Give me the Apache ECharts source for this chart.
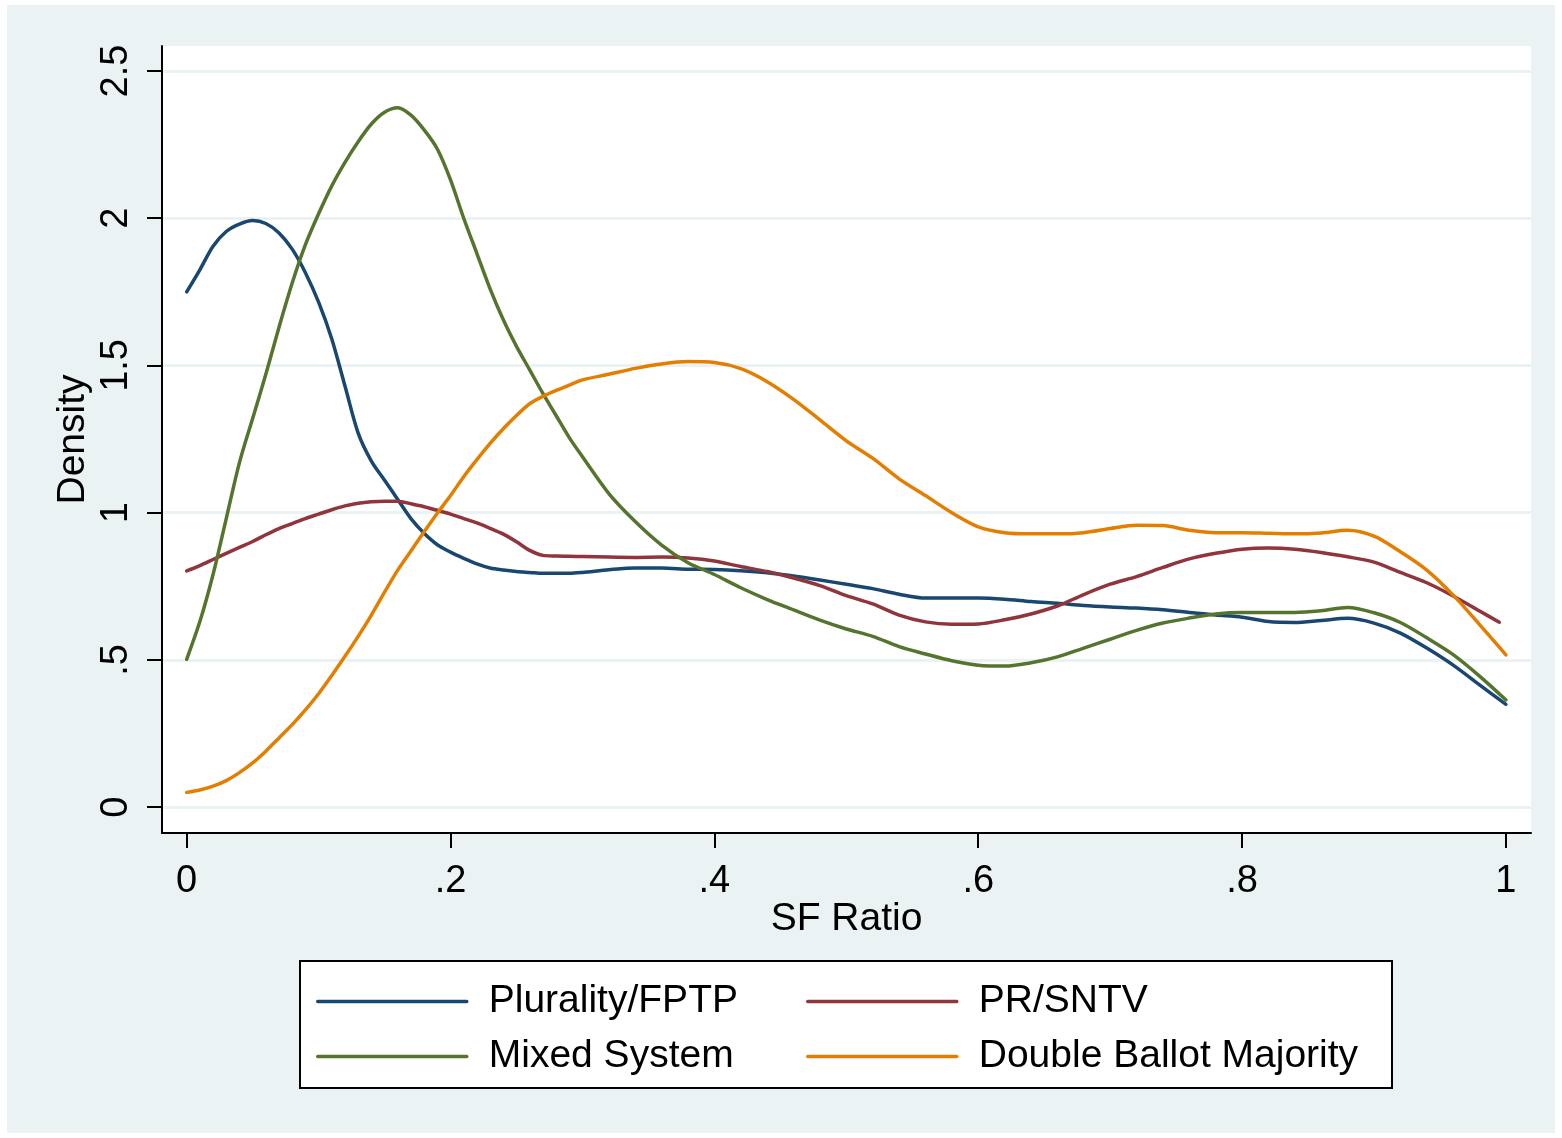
<!DOCTYPE html>
<html>
<head>
<meta charset="utf-8">
<script src="https://cdn.jsdelivr.net/npm/echarts@6/dist/echarts.min.js"></script>
<style>
html,body{margin:0;padding:0;background:#ffffff;}
#chart{width:1562px;height:1138px;}
</style>
</head>
<body>
<div id="chart"></div>
<script>
// ---- data ----
const xGrid = [0,0.01,0.02,0.03,0.04,0.05,0.06,0.07,0.08,0.09,0.10,0.11,0.12,0.13,0.14,0.15,0.16,0.17,0.18,0.19,0.20,0.21,0.22,0.23,0.24,0.25,0.26,0.27,0.28,0.29,0.30,
  0.32,0.34,0.36,0.38,0.40,0.42,0.44,0.46,0.48,0.50,0.52,0.54,0.56,0.58,0.60,0.62,0.64,0.66,0.68,0.70,0.72,0.74,0.76,0.78,0.80,0.82,0.84,0.86,0.88,0.90,0.92,0.94,0.96,0.98,1.00];

const plurality = [1.75,1.825,1.905,1.955,1.98,1.992,1.982,1.95,1.895,1.815,1.715,1.59,1.43,1.27,1.175,1.11,1.045,0.98,0.93,0.891,0.866,0.845,0.826,0.812,0.805,0.80,0.797,0.794,0.794,0.794,0.797,
  0.806,0.812,0.812,0.808,0.807,0.803,0.796,0.785,0.771,0.757,0.742,0.723,0.710,0.710,0.710,0.706,0.698,0.692,0.685,0.680,0.676,0.670,0.661,0.652,0.645,0.630,0.627,0.634,0.641,0.625,0.591,0.540,0.482,0.415,0.349];

const prSntv = [0.802,0.82,0.841,0.862,0.882,0.902,0.925,0.946,0.963,0.98,0.995,1.01,1.023,1.032,1.037,1.039,1.039,1.03,1.02,1.008,0.995,0.98,0.965,0.947,0.927,0.901,0.872,0.855,0.853,0.852,0.851,
  0.849,0.848,0.849,0.846,0.836,0.817,0.80,0.778,0.752,0.718,0.69,0.652,0.629,0.621,0.622,0.636,0.656,0.683,0.722,0.757,0.783,0.814,0.843,0.862,0.876,0.880,0.876,0.865,0.850,0.832,0.797,0.762,0.717,0.666,null];
const prSntvEnd = [0.995, 0.628];

const mixed = [0.502,0.63,0.79,0.98,1.17,1.32,1.47,1.63,1.78,1.91,2.015,2.11,2.19,2.26,2.32,2.36,2.375,2.35,2.30,2.235,2.13,2.0,1.88,1.76,1.655,1.565,1.485,1.405,1.33,1.255,1.19,
  1.065,0.97,0.89,0.83,0.79,0.745,0.705,0.67,0.635,0.605,0.58,0.545,0.52,0.497,0.482,0.479,0.49,0.51,0.54,0.57,0.60,0.625,0.642,0.656,0.661,0.661,0.661,0.667,0.678,0.66,0.627,0.575,0.518,0.445,0.364];

const doubleBallot = [0.05,0.058,0.071,0.09,0.117,0.15,0.19,0.235,0.28,0.33,0.385,0.447,0.512,0.58,0.652,0.73,0.805,0.87,0.935,0.998,1.058,1.122,1.18,1.235,1.285,1.33,1.37,1.395,1.415,1.433,1.451,
  1.47,1.49,1.505,1.513,1.51,1.489,1.445,1.385,1.315,1.244,1.185,1.115,1.058,1.0,0.952,0.932,0.928,0.928,0.932,0.946,0.957,0.956,0.94,0.932,0.932,0.93,0.928,0.931,0.94,0.92,0.867,0.805,0.72,0.62,0.517];

const seriesNames = ['Plurality/FPTP','PR/SNTV','Mixed System','Double Ballot Majority'];
const seriesColors = ['#1a476f','#90353b','#55752f','#e37e00'];

const xTicks = [0,0.2,0.4,0.6,0.8,1];
const xTickLabels = ['0','.2','.4','.6','.8','1'];
const yTicks = [0,0.5,1,1.5,2,2.5];
const yTickLabels = ['0','.5','1','1.5','2','2.5'];

// ---- build ----
function pairs(vals){
  const out = [];
  vals.forEach((v,i)=>{ if(v!==null) out.push([xGrid[i], v]); });
  return out;
}
const prData = pairs(prSntv); prData.push(prSntvEnd);
const allData = [pairs(plurality), prData, pairs(mixed), pairs(doubleBallot)];

const FONT = '"Liberation Sans", Arial, Helvetica, sans-serif';

function labelFor(ticks, labels){
  return function(v){
    for(let i=0;i<ticks.length;i++){ if(Math.abs(ticks[i]-v)<1e-9) return labels[i]; }
    return '';
  };
}

const chart = echarts.init(document.getElementById('chart'), null, {renderer:'canvas'});

const legendPos = [[316,982],[806,982],[316,1037],[806,1037]];

const option = {
  animation:false,
  backgroundColor:'#ffffff',
  graphic:[
    {type:'rect', z:-100, shape:{x:7,y:5,width:1548,height:1128}, style:{fill:'#EAF2F3'}},
    {type:'rect', z:3, shape:{x:300,y:961,width:1092,height:127}, style:{fill:'#ffffff', stroke:'#000000', lineWidth:2}}
  ],
  grid:{left:162, right:31, top:46, bottom:305, show:true, backgroundColor:'#ffffff', borderWidth:0},
  xAxis:{
    type:'value', min:-0.0187, max:1.019,
    name:'SF Ratio', nameLocation:'middle', nameGap:67, nameMoveOverlap:false,
    nameTextStyle:{fontFamily:FONT, fontSize:39, color:'#000'},
    axisLine:{show:true, onZero:false, lineStyle:{color:'#000', width:2}},
    axisTick:{show:true, length:15, lineStyle:{color:'#000', width:2}, customValues:xTicks},
    axisLabel:{show:true, margin:30, fontFamily:FONT, fontSize:38, color:'#000', customValues:xTicks, formatter:labelFor(xTicks,xTickLabels)},
    splitLine:{show:false}
  },
  yAxis:{
    type:'value', min:-0.088, max:2.585,
    name:'Density', nameLocation:'middle', nameGap:69, nameRotate:90, nameMoveOverlap:false,
    nameTextStyle:{fontFamily:FONT, fontSize:39, color:'#000'},
    axisLine:{show:true, onZero:false, lineStyle:{color:'#000', width:2}},
    axisTick:{show:true, length:15, lineStyle:{color:'#000', width:2}, customValues:yTicks},
    axisLabel:{show:true, rotate:90, margin:26, fontFamily:FONT, fontSize:38, color:'#000', customValues:yTicks, formatter:labelFor(yTicks,yTickLabels)},
    splitLine:{show:true, lineStyle:{color:'#EAF2F3', width:3}}
  },
  legend: seriesNames.map((n,i)=>({
    data:[n], left:legendPos[i][0], top:legendPos[i][1], padding:0,
    icon:'inherit',
    itemStyle:{opacity:0, borderWidth:0},
    lineStyle:{color:seriesColors[i], width:3.5, opacity:1},
    itemWidth:149, itemHeight:20, selectedMode:false,
    textStyle:{fontFamily:FONT, fontSize:39, color:'#000', padding:[0,0,0,17]}
  })),
  series: seriesNames.map((n,i)=>({
    name:n, type:'line', data:allData[i], symbol:'none', smooth:0.3,
    lineStyle:{color:seriesColors[i], width:3.5, cap:'round', join:'round'},
    itemStyle:{color:seriesColors[i]},
    z:2
  }))
};
chart.setOption(option);
</script>
</body>
</html>
